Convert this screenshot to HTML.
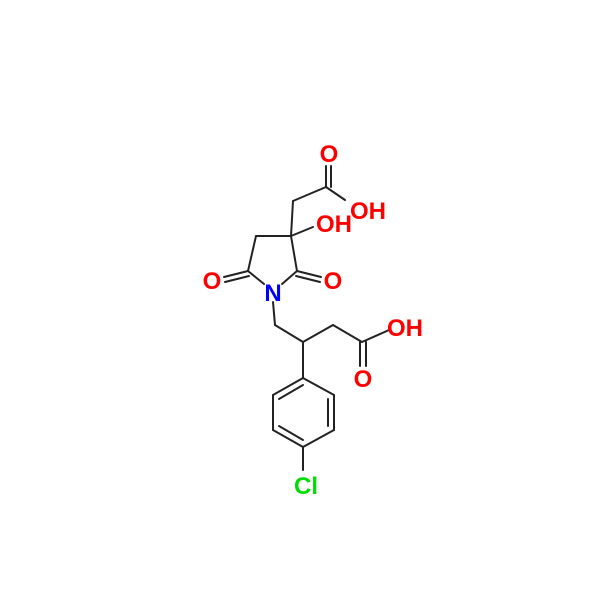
<!DOCTYPE html>
<html><head><style>html,body{margin:0;padding:0;background:#fff}
text{font-family:"Liberation Sans",Arial,sans-serif;font-size:24px;font-weight:bold}</style></head><body>
<svg width="600" height="609" viewBox="0 0 600 609" xmlns="http://www.w3.org/2000/svg">
<g stroke="#222" stroke-width="2" fill="none" stroke-linecap="round">
<line x1="291" y1="236" x2="293" y2="201"/>
<line x1="293" y1="201" x2="326" y2="187"/>
<line x1="326" y1="187" x2="326" y2="166"/>
<line x1="331" y1="187" x2="331" y2="166"/>
<line x1="326" y1="187" x2="345" y2="200"/>
<line x1="291" y1="236" x2="313" y2="227"/>
<line x1="291" y1="236" x2="256" y2="236"/>
<line x1="256" y1="236" x2="248" y2="271"/>
<line x1="248" y1="271" x2="264" y2="284"/>
<line x1="282" y1="284" x2="297" y2="271"/>
<line x1="297" y1="271" x2="291" y2="236"/>
<line x1="248" y1="271" x2="224" y2="277"/>
<line x1="249" y1="276" x2="225" y2="282"/>
<line x1="297" y1="271" x2="321" y2="277"/>
<line x1="296" y1="276" x2="320" y2="282"/>
<line x1="273" y1="302" x2="275" y2="325"/>
<line x1="275" y1="325" x2="303" y2="342"/>
<line x1="303" y1="342" x2="333" y2="325"/>
<line x1="333" y1="325" x2="362" y2="342"/>
<line x1="362" y1="342" x2="389" y2="330"/>
<line x1="360" y1="342" x2="360" y2="366"/>
<line x1="366" y1="342" x2="366" y2="366"/>
<line x1="303" y1="342" x2="303" y2="378"/>
<line x1="303" y1="378" x2="334" y2="395"/>
<line x1="334" y1="395" x2="334" y2="430"/>
<line x1="334" y1="430" x2="303" y2="447"/>
<line x1="303" y1="447" x2="273" y2="430"/>
<line x1="273" y1="430" x2="273" y2="395"/>
<line x1="273" y1="395" x2="303" y2="378"/>
<line x1="303" y1="385" x2="279" y2="399"/>
<line x1="328" y1="399" x2="328" y2="426"/>
<line x1="279" y1="426" x2="303" y2="440"/>
<line x1="303" y1="447" x2="303" y2="470"/>
</g>
<g text-anchor="middle">
<text x="329" y="162" fill="#f00">O</text>
<text x="368" y="219" fill="#f00">OH</text>
<text x="334" y="232" fill="#f00">OH</text>
<text x="212" y="289" fill="#f00">O</text>
<text x="273" y="301" fill="#00f">N</text>
<text x="333" y="289" fill="#f00">O</text>
<text x="405" y="336" fill="#f00">OH</text>
<text x="363" y="387" fill="#f00">O</text>
<text x="306" y="494" fill="#0d0">Cl</text>
</g>
</svg>
</body></html>
